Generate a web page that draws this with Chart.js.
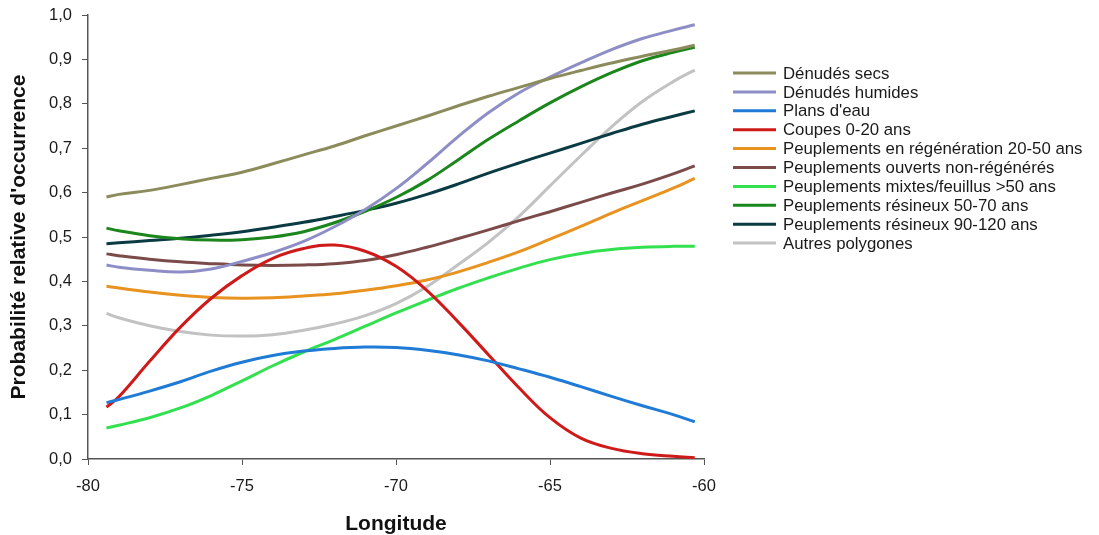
<!DOCTYPE html>
<html><head><meta charset="utf-8">
<script src="https://cdn.jsdelivr.net/npm/chart.js@4"></script>
<style>html,body{margin:0;padding:0;background:#fff;}#wrap{width:1099px;height:535px;}</style>
</head><body><div id="wrap"><canvas id="c" width="1099" height="535"></canvas></div>
<script>
const longitudes = [-79.4,-79,-78,-77,-76,-75,-74,-73,-72,-71,-70,-69,-68,-67,-66,-65,-64,-63,-62,-61,-60.3];
const labels = ["Dénudés secs","Dénudés humides","Plans d'eau","Coupes 0-20 ans","Peuplements en régénération 20-50 ans","Peuplements ouverts non-régénérés","Peuplements mixtes/feuillus >50 ans","Peuplements résineux 50-70 ans","Peuplements résineux 90-120 ans","Autres polygones"];
const denudesSecs   = [0.59,0.596,0.605,0.618,0.632,0.646,0.665,0.685,0.705,0.728,0.75,0.772,0.795,0.817,0.837,0.857,0.875,0.892,0.907,0.921,0.932];
const denudesHumides= [0.437,0.432,0.425,0.421,0.428,0.445,0.465,0.49,0.523,0.562,0.609,0.665,0.725,0.78,0.825,0.86,0.892,0.922,0.947,0.966,0.978];
const plansEau      = [0.127,0.134,0.153,0.174,0.198,0.218,0.233,0.243,0.249,0.252,0.251,0.245,0.235,0.221,0.203,0.184,0.163,0.141,0.12,0.1,0.084];
const coupes        = [0.117,0.14,0.22,0.297,0.362,0.413,0.452,0.474,0.482,0.468,0.434,0.38,0.31,0.235,0.16,0.093,0.047,0.024,0.012,0.006,0.003];
const regeneration  = [0.389,0.385,0.376,0.369,0.364,0.362,0.363,0.367,0.372,0.38,0.39,0.403,0.421,0.443,0.467,0.495,0.524,0.554,0.582,0.61,0.632];
const ouverts       = [0.462,0.458,0.45,0.444,0.44,0.437,0.436,0.437,0.44,0.447,0.46,0.477,0.496,0.516,0.537,0.557,0.578,0.599,0.619,0.642,0.66];
const mixtes        = [0.07,0.076,0.093,0.115,0.143,0.176,0.21,0.241,0.269,0.299,0.329,0.357,0.384,0.408,0.43,0.449,0.463,0.472,0.477,0.479,0.479];
const resineux5070  = [0.52,0.514,0.503,0.496,0.493,0.494,0.5,0.512,0.532,0.558,0.589,0.627,0.673,0.72,0.762,0.802,0.838,0.87,0.897,0.916,0.927];
const resineux90120 = [0.485,0.487,0.492,0.497,0.504,0.512,0.522,0.533,0.546,0.56,0.576,0.596,0.619,0.644,0.667,0.689,0.711,0.733,0.754,0.772,0.784];
const autres        = [0.328,0.318,0.3,0.287,0.279,0.277,0.28,0.29,0.304,0.323,0.35,0.388,0.437,0.488,0.547,0.615,0.683,0.748,0.805,0.85,0.876];
const series = [denudesSecs,denudesHumides,plansEau,coupes,regeneration,ouverts,mixtes,resineux5070,resineux90120,autres];
const colors = ["#8b8b5c","#8e8ec6","#1f7bd6","#cf1a1a","#e8921f","#7b4b4a","#33e04f","#1b861b","#0b3b42","#c2c2c2"];
const xTicks = [-80,-75,-70,-65,-60];
const yTicks = [0,0.1,0.2,0.3,0.4,0.5,0.6,0.7,0.8,0.9,1.0];

const datasets = series.map((s,i)=>({
  label: labels[i],
  data: s.map((v,j)=>({x: longitudes[j], y: v})),
  borderColor: colors[i], backgroundColor: colors[i],
  borderWidth: 3, pointRadius: 0, tension: 0.4, fill: false
}));
const font = "'Liberation Sans', Arial, sans-serif";

const legendPlugin = {
  id: 'customLegend',
  afterDraw(chart) {
    const ctx = chart.ctx;
    ctx.save();
    ctx.font = "16.8px " + font;
    ctx.textBaseline = 'middle';
    chart.data.datasets.forEach((d,i)=>{
      const y = 73 + i*18.9;
      ctx.strokeStyle = d.borderColor; ctx.lineWidth = 3;
      ctx.beginPath(); ctx.moveTo(733,y); ctx.lineTo(776,y); ctx.stroke();
      ctx.fillStyle = '#1a1a1a';
      ctx.fillText(d.label, 783, y+1);
    });
    ctx.restore();
  }
};

new Chart(document.getElementById('c'), {
  type: 'line',
  data: { datasets },
  options: {
    responsive: false, animation: false,
    layout: { padding: { left: 0, right: 395, top: 15, bottom: 0 } },
    plugins: { legend: { display: false }, tooltip: { enabled: false } },
    scales: {
      x: {
        type: 'linear', min: -80, max: -60,
        afterBuildTicks: (s)=>{ s.ticks = xTicks.map(v=>({value:v})); },
        afterFit: (s)=>{ s.height = 76; },
        grid: { display: true, drawOnChartArea: false, drawTicks: true, tickLength: 6, color: '#555' },
        border: { display: true, color: '#555', width: 1.5 },
        ticks: { color: '#1a1a1a', font: { family: font, size: 16.5 }, padding: 12, maxRotation: 0,
                 callback: (v)=>String(v) },
        title: { display: true, text: 'Longitude', color: '#111', font: { family: font, size: 21, weight: 'bold' }, padding: { top: 0, bottom: -2 } }
      },
      y: {
        type: 'linear', min: 0, max: 1,
        afterBuildTicks: (s)=>{ s.ticks = yTicks.map(v=>({value:v})); },
        afterFit: (s)=>{ s.width = 88; s.paddingTop = 0; s.paddingBottom = 0; },
        grid: { display: true, drawOnChartArea: false, drawTicks: true, tickLength: 6, color: '#555' },
        border: { display: true, color: '#555', width: 1.5 },
        ticks: { color: '#1a1a1a', font: { family: font, size: 16.5, lineHeight: 1 }, padding: 10,
                 callback: (v)=>v.toFixed(1).replace('.', ',') },
        title: { display: true, text: "Probabilité relative d'occurrence", color: '#111', font: { family: font, size: 21, weight: 'bold' }, padding: { top: 7, bottom: 0 } }
      }
    }
  },
  plugins: [legendPlugin]
});
</script></body></html>
